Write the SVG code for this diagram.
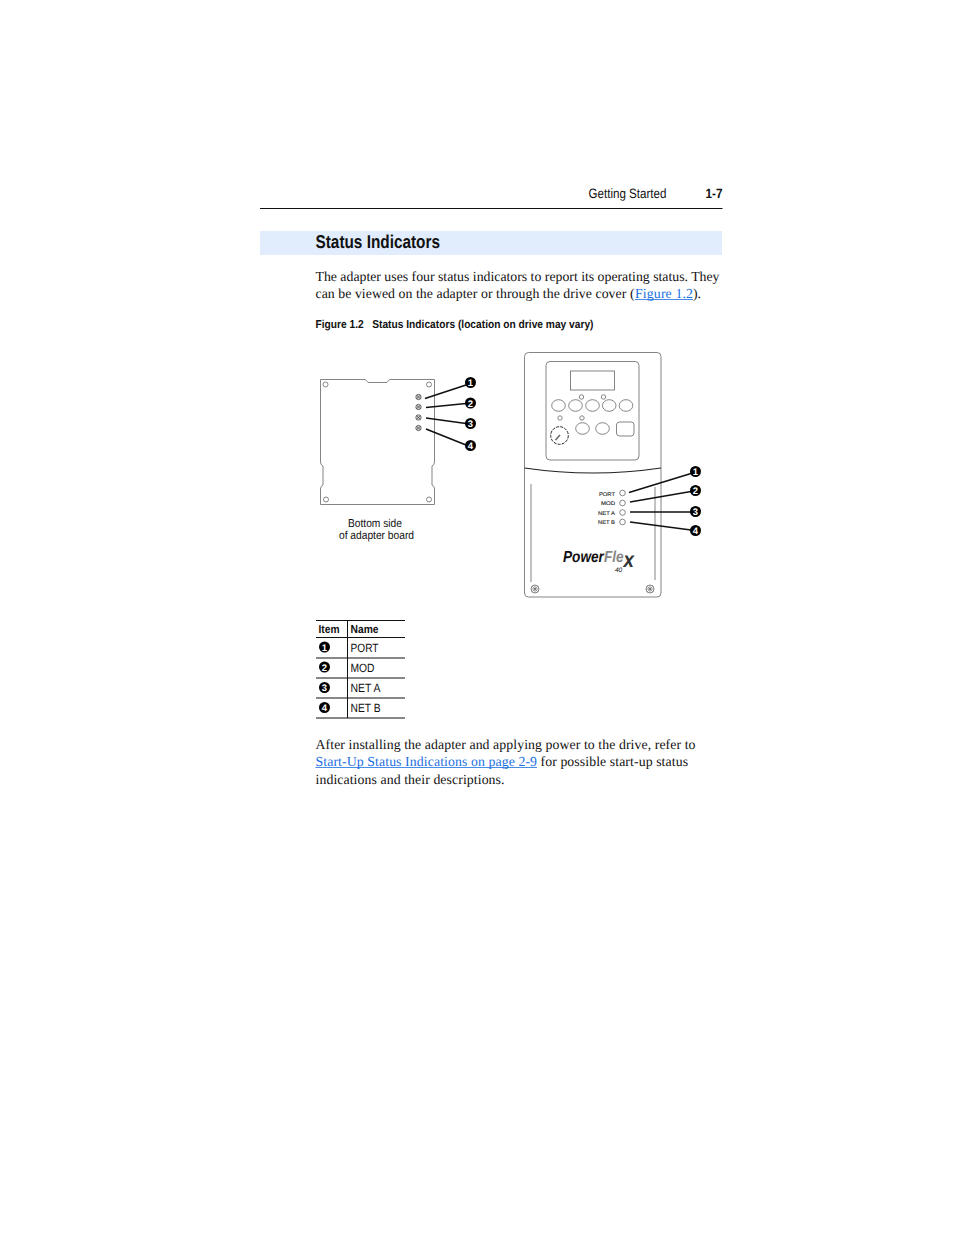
<svg xmlns="http://www.w3.org/2000/svg" width="954" height="1235" viewBox="0 0 954 1235">
<style>
text{text-rendering:geometricPrecision}
.s{font-family:"Liberation Sans",Arial,sans-serif;fill:#111}
.b{font-weight:bold}
.t{font-family:"Liberation Serif","Times New Roman",serif;font-size:13.8px;fill:#111}
.l{fill:#1b6fe0}
.ln{stroke:#111;stroke-width:1.6;fill:none}
.o{fill:#fff;stroke:#555;stroke-width:.7}
.g{fill:none;stroke:#777;stroke-width:.9}
.n{font-family:"Liberation Sans",Arial,sans-serif;font-weight:bold;font-size:9.5px;fill:#fff;text-anchor:middle}
.r{stroke:#111;stroke-width:1;fill:none}
.lab{font-family:"Liberation Sans",Arial,sans-serif;font-size:5.4px;stroke:#333;stroke-width:.15;fill:#333;text-anchor:end}
.logo{font-family:"Liberation Sans",Arial,sans-serif;font-weight:bold;font-style:italic}
</style>
<defs>
<g id="led"><circle r="2.7" fill="#ccc" stroke="#444" stroke-width=".7"/><path d="M-1.8-1.8L1.8 1.8M1.8-1.8L-1.8 1.8" stroke="#444" stroke-width=".7"/></g>
<g id="screw"><circle r="4" fill="#fff" stroke="#666" stroke-width=".8"/><path d="M-2.6-2.600L2.600 2.600M2.600-2.600L-2.600 2.600M-3.400 0H3.400M0-3.400V3.400" stroke="#666" stroke-width=".7"/></g>
</defs>
<rect width="954" height="1235" fill="#fff"/>
<g id="page-header">
<text class="s" x="588.500" y="198" font-size="13.500" textLength="78" lengthAdjust="spacingAndGlyphs">Getting Started</text>
<text class="s b" x="705.500" y="198" font-size="13.500" textLength="17" lengthAdjust="spacingAndGlyphs">1-7</text>
<path d="M260 208.500H722.500" stroke="#111" stroke-width="1"/>
</g>
<g id="heading">
<rect x="260" y="231" width="462" height="24" fill="#e1edfc"/>
<text class="s b" x="315.500" y="248" font-size="18.500" textLength="124.500" lengthAdjust="spacingAndGlyphs">Status Indicators</text>
</g>
<g id="intro">
<text class="t" x="315.500" y="281" textLength="404" lengthAdjust="spacing">The adapter uses four status indicators to report its operating status. They</text>
<text class="t" x="315.500" y="298" textLength="319" lengthAdjust="spacing">can be viewed on the adapter or through the drive cover (</text>
<text class="t l" x="635" y="298" textLength="58" lengthAdjust="spacing">Figure 1.2</text>
<path d="M635 299.500H693" stroke="#1b6fe0" stroke-width=".8"/>
<text class="t" x="693" y="298">).</text>
<text class="s b" x="315.500" y="328" font-size="11.500" textLength="278" lengthAdjust="spacingAndGlyphs" xml:space="preserve">Figure 1.2   Status Indicators (location on drive may vary)</text>
</g>
<g id="adapter-board">
<path class="g" d="M320.500 379.500H365.500L368 382.500H387L389.500 379.500H434.500V462Q434.500 465 432 466V485Q434.500 486 434.500 489V504.500H320.500V489Q320.500 486 323 485V466Q320.500 465 320.500 462Z"/>
<circle class="o" cx="325.500" cy="384.500" r="2.500"/><circle class="o" cx="429" cy="384.500" r="2.500"/>
<circle class="o" cx="326" cy="499.500" r="2.500"/><circle class="o" cx="429" cy="499.500" r="2.500"/>
<use href="#led" x="418.500" y="397"/><use href="#led" x="418.500" y="407"/><use href="#led" x="418.500" y="417.500"/><use href="#led" x="418.500" y="428"/>
<text class="s" x="375" y="527" font-size="11.500" text-anchor="middle" textLength="54" lengthAdjust="spacingAndGlyphs">Bottom side</text>
<text class="s" x="376.500" y="539" font-size="11.500" text-anchor="middle" textLength="75" lengthAdjust="spacingAndGlyphs">of adapter board</text>
</g>
<g id="drive">
<rect class="g" x="524.500" y="352.500" width="136.500" height="244.500" rx="4"/>
<rect class="g" x="546" y="361.500" width="93" height="98.500" rx="4"/>
<rect class="g" x="570.500" y="371" width="44" height="19"/>
<g class="g">
<ellipse cx="558.500" cy="405.500" rx="6.800" ry="5.800"/><ellipse cx="575.500" cy="405.500" rx="6.800" ry="5.800"/><ellipse cx="592.500" cy="405.500" rx="6.800" ry="5.800"/><ellipse cx="609.200" cy="405.500" rx="6.800" ry="5.800"/><ellipse cx="626" cy="405.500" rx="6.800" ry="5.800"/>
<circle cx="581.500" cy="397" r="2.200"/><circle cx="603.500" cy="397" r="2.200"/><circle cx="560" cy="418" r="2.200"/><circle cx="582" cy="418" r="2.200"/>
<ellipse cx="582.500" cy="428.500" rx="6.800" ry="5.800"/><ellipse cx="602.500" cy="428.500" rx="6.800" ry="5.800"/>
<rect x="616.500" y="422" width="17.500" height="14" rx="3"/>
</g>
<circle cx="559.500" cy="435.500" r="8.800" fill="none" stroke="#222" stroke-width="1" stroke-dasharray="3 1.200"/>
<path d="M555.500 440L560 435" stroke="#666" stroke-width="1.500"/>
<path d="M524.500 468Q593 478 661 468" fill="none" stroke="#222" stroke-width="1.100"/>
<path class="g" d="M531 484V582M655 487V580"/>
<text class="lab" x="615" y="495.500" textLength="16" lengthAdjust="spacingAndGlyphs">PORT</text><text class="lab" x="615" y="505" textLength="14" lengthAdjust="spacingAndGlyphs">MOD</text><text class="lab" x="615" y="514.500" textLength="17" lengthAdjust="spacingAndGlyphs">NET A</text><text class="lab" x="615" y="524" textLength="17" lengthAdjust="spacingAndGlyphs">NET B</text>
<circle class="o" cx="622.500" cy="493" r="2.800"/><circle class="o" cx="622.500" cy="503" r="2.800"/><circle class="o" cx="622.500" cy="512.500" r="2.800"/><circle class="o" cx="622.500" cy="522" r="2.800"/>
<text class="logo" x="563" y="562" font-size="16" fill="#111" textLength="71" lengthAdjust="spacingAndGlyphs">Power<tspan fill="#888">Fle</tspan><tspan font-size="22" dy="5" fill="#333">x</tspan></text>
<text class="s" x="615" y="572" font-size="6.500" font-style="italic">40</text>
<use href="#screw" x="535" y="589"/><use href="#screw" x="650" y="589"/>
</g>
<g id="connectors">
<path class="ln" d="M425 398.500L466 385M426 407.500L466 403.500M426 418L466 423.500M426 429L466 445"/>
<path class="ln" d="M629 492.500L691 473.500M630 502L691 491.500M630 512H691M630 522L691 530"/>
</g>
<g id="board-callouts">
<circle cx="470.500" cy="382.500" r="5.500"/><text class="n" x="470.500" y="386">1</text>
<circle cx="470.500" cy="403" r="5.500"/><text class="n" x="470.500" y="406.500">2</text>
<circle cx="470.500" cy="423.500" r="5.500"/><text class="n" x="470.500" y="427">3</text>
<circle cx="470.500" cy="445.500" r="5.500"/><text class="n" x="470.500" y="449">4</text>
</g>
<g id="drive-callouts">
<circle cx="695.500" cy="471.500" r="5.500"/><text class="n" x="695.500" y="475">1</text>
<circle cx="695.500" cy="490.500" r="5.500"/><text class="n" x="695.500" y="494">2</text>
<circle cx="695.500" cy="511.500" r="5.500"/><text class="n" x="695.500" y="515">3</text>
<circle cx="695.500" cy="530.500" r="5.500"/><text class="n" x="695.500" y="534">4</text>
</g>
<g id="legend-table">
<path class="r" d="M316 620.500H405M316 637.500H405M316 658H405M316 678H405M316 698H405M316 718H405M347.500 620.500V718"/>
<text class="s b" x="318.500" y="633" font-size="11.500" textLength="21" lengthAdjust="spacingAndGlyphs">Item</text>
<text class="s b" x="350.500" y="633" font-size="11.500" textLength="28" lengthAdjust="spacingAndGlyphs">Name</text>
<circle cx="324.500" cy="647" r="5.500"/><text class="n" x="324.500" y="650.500">1</text>
<circle cx="324.500" cy="667" r="5.500"/><text class="n" x="324.500" y="670.500">2</text>
<circle cx="324.500" cy="687.500" r="5.500"/><text class="n" x="324.500" y="691">3</text>
<circle cx="324.500" cy="707.500" r="5.500"/><text class="n" x="324.500" y="711">4</text>
<text class="s" x="350.500" y="652" font-size="12" textLength="28" lengthAdjust="spacingAndGlyphs">PORT</text>
<text class="s" x="350.500" y="672" font-size="12" textLength="24" lengthAdjust="spacingAndGlyphs">MOD</text>
<text class="s" x="350.500" y="692" font-size="12" textLength="30" lengthAdjust="spacingAndGlyphs">NET A</text>
<text class="s" x="350.500" y="712" font-size="12" textLength="30" lengthAdjust="spacingAndGlyphs">NET B</text>
</g>
<g id="closing">
<text class="t" x="315.500" y="749" textLength="380" lengthAdjust="spacing">After installing the adapter and applying power to the drive, refer to</text>
<text class="t l" x="315.500" y="766" textLength="221.500" lengthAdjust="spacing">Start-Up Status Indications on page 2-9</text>
<path d="M315.500 767.500H537" stroke="#1b6fe0" stroke-width=".8"/>
<text class="t" x="540.500" y="766" textLength="147.500" lengthAdjust="spacing">for possible start-up status</text>
<text class="t" x="315.500" y="784" textLength="189" lengthAdjust="spacing">indications and their descriptions.</text>
</g>
</svg>
